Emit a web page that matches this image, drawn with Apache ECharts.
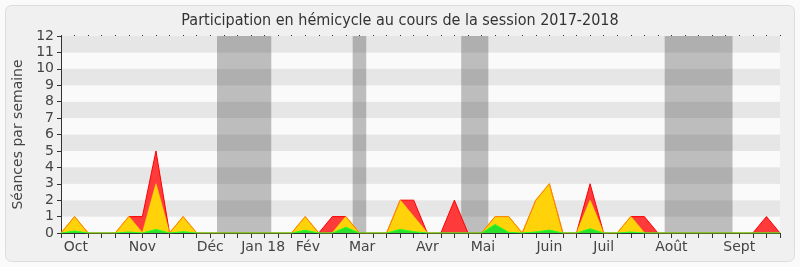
<!DOCTYPE html>
<html>
<head>
<meta charset="utf-8">
<script src="https://cdn.jsdelivr.net/npm/echarts@6/dist/echarts.min.js"></script>
<style>
html,body{margin:0;padding:0;background:#fafafa;}
#c{width:800px;height:267px;}
</style>
</head>
<body>
<div id="c"></div>
<script>
// Weekly values, index = week number from start of session (0..53)
const redTotal = [0,1,0,0,0,1,1,5,0,1,0,0,0,0,0,0,0,0,1,0,1,1,0,0,0,2,2,0,0,2,0,0,1,1,0,2,3,0,0,3,0,0,1,1,0,0,0,0,0,0,0,0,1,0];
const yellowPart = [0,1,0,0,0,1,0,3,0,1,0,0,0,0,0,0,0,0,1,0,0,1,0,0,0,2,1,0,0,0,0,0,1,1,0,2,3,0,0,2,0,0,1,0,0,0,0,0,0,0,0,0,0,0];
const greenPart = [0,0.12,0,0,0,0.06,0,0.22,0,0.08,0,0,0,0,0,0,0,0,0.17,0,0,0.35,0,0,0,0.22,0.08,0,0,0,0,0,0.52,0.04,0,0.06,0.18,0,0,0.26,0,0,0.06,0,0,0,0,0,0,0,0,0,0,0];
// Vacation periods [startWeek, endWeek]
const vacations = [[11.5,15.5],[21.5,22.5],[29.5,31.5],[44.5,49.5]];
// Month tick labels and their position in weeks
const monthLabels = ['Oct','Nov','Déc','Jan 18','Fév','Mar','Avr','Mai','Juin','Juil','Août','Sept'];
const monthPos = [1.1,6.0,11.0,14.9,18.2,22.2,27.0,31.1,36.0,40.0,45.0,50.0];
const nWeeks = 53;
const yMax = 12;

const toPts = arr => arr.map((v,i)=>[i,v]);
// fine category axis (tenths of week) for month labels
const fine = [];
for (let k=0;k<=nWeeks*10;k++) fine.push('');
monthPos.forEach((p,j)=>{ fine[Math.round(p*10)] = monthLabels[j]; });

const FONT = 'DejaVu Sans';
const chart = echarts.init(document.getElementById('c'), null, {renderer:'canvas'});
chart.setOption({
  animation:false,
  backgroundColor:'#fafafa',
  textStyle:{fontFamily:FONT},
  title:{text:'Participation en hémicycle au cours de la session 2017-2018', left:'center', top:8,
    textStyle:{fontFamily:'DejaVu Sans Condensed', fontSize:16, fontWeight:'normal', color:'#333'}},
  graphic:{elements:[{type:'rect', z:-100, shape:{x:5.5,y:5.5,width:789,height:256,r:6},
    style:{fill:'#f0f0f0', stroke:'#dcdcdc', lineWidth:1}}]},
  grid:{left:61, top:36, width:719, height:197, containLabel:false},
  xAxis:[
    {type:'value', min:0, max:nWeeks, interval:1, position:'bottom',
     axisLine:{show:true, onZero:false, lineStyle:{color:'#333'}},
     axisTick:{show:true, length:5, lineStyle:{color:'#333'}},
     axisLabel:{show:false}, splitLine:{show:false}},
    {type:'category', data:fine, boundaryGap:false, position:'bottom',
     axisLine:{show:false}, axisTick:{show:false}, splitLine:{show:false},
     axisLabel:{show:true, interval:(i,v)=>v!=='', margin:7, fontSize:14, color:'#444', fontFamily:FONT}},
    {type:'value', min:0, max:nWeeks, interval:1, position:'top',
     axisLine:{show:false}, axisTick:{show:true, length:1, lineStyle:{color:'#333'}},
     axisLabel:{show:false}, splitLine:{show:false}}
  ],
  yAxis:{type:'value', min:0, max:yMax, interval:1,
    name:'Séances par semaine', nameLocation:'middle', nameGap:36,
    nameTextStyle:{fontSize:14, color:'#444', fontFamily:FONT},
    axisLine:{show:true, lineStyle:{color:'#333'}},
    axisTick:{show:true, length:4, lineStyle:{color:'#333'}},
    axisLabel:{fontSize:14, color:'#444', margin:7, fontFamily:FONT},
    splitLine:{show:false},
    splitArea:{show:true, areaStyle:{color:['#fafafa','#e6e6e6']}}},
  series:[
    {type:'line', name:'total', data:toPts(redTotal), showSymbol:false, xAxisIndex:0,
     lineStyle:{color:'#ff0000', width:1}, areaStyle:{color:'#ff3a3a', opacity:1},
     markArea:{silent:true, itemStyle:{color:'rgba(50,50,50,0.3)'},
       data:vacations.map(v=>[{xAxis:v[0]},{xAxis:v[1]}])}},
    {type:'line', name:'yellow', data:toPts(yellowPart), showSymbol:false, xAxisIndex:0,
     lineStyle:{color:'rgba(255,235,0,0.55)', width:1.2}, areaStyle:{color:'#ffd20a', opacity:1}},
    {type:'line', name:'green', data:toPts(greenPart), showSymbol:false, xAxisIndex:0,
     lineStyle:{color:'#22ff22', width:1}, areaStyle:{color:'#2be02b', opacity:1}}
  ]
});
</script>
</body>
</html>
